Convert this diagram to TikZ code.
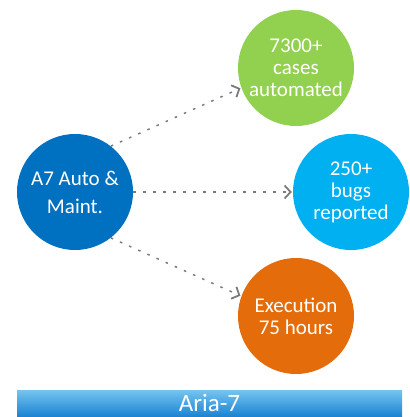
\documentclass[tikz,border=0pt]{standalone}
\usepackage{fontspec}
\setmainfont{Carlito}
\usetikzlibrary{arrows.meta}
\definecolor{coreblue}{HTML}{0070C0}
\definecolor{leafgreen}{HTML}{92D050}
\definecolor{leafcyan}{HTML}{00B0F0}
\definecolor{leaforange}{HTML}{E46C0A}
\definecolor{linkgray}{HTML}{7A7A7A}
\definecolor{bartop}{HTML}{74C4F0}
\definecolor{barbottom}{HTML}{1A82D2}
\begin{document}
\begin{tikzpicture}[x=1pt,y=-1pt,
  bubble/.style={circle, minimum size=116pt, inner sep=0pt, align=center,
    text=white, font=\fontsize{21}{22}\selectfont},
  link/.style={draw=linkgray, line width=1.5pt, dash pattern=on 2.5pt off 7.5pt,
    -{Straight Barb[length=6pt,width=13pt,line width=1.8pt]}, shorten >=1pt}]
\useasboundingbox (0,0) rectangle (409,417);

% hub and result bubbles
\node[bubble, fill=coreblue, font=\fontsize{21}{28}\selectfont] (core) at (75,192) {A7 Auto \&\\Maint.};
\node[bubble, fill=leafgreen] (cases) at (296,68) {7300+\\cases\\automated};
\node[bubble, fill=leafcyan] (bugs) at (351,192) {250+\\bugs\\reported};
\node[bubble, fill=leaforange] (hours) at (296,316) {Execution\\75 hours};

% dotted links
\draw[link] (core.52) -- (cases.200);
\draw[link] (core.east) -- (bugs.west);
\draw[link] (core.-52) -- (hours.160);

% caption bar
\node[rectangle, minimum width=385pt, minimum height=27pt, inner sep=0pt,
  top color=bartop, bottom color=barbottom] (bar) at (209.5,403.5) {};
\node[anchor=base, inner sep=0pt, text=white, font=\fontsize{25}{27}\selectfont] (barlabel) at (bar.center |- 0,411.5) {Aria-7};
\end{tikzpicture}
\end{document}
